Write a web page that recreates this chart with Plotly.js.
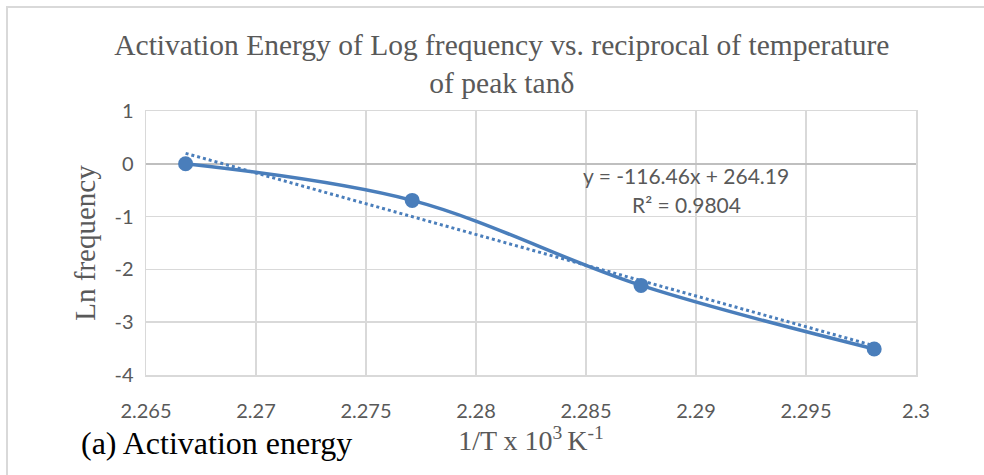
<!DOCTYPE html>
<html>
<head>
<meta charset="utf-8">
<script src="https://cdn.plot.ly/plotly-3.0.1.min.js"></script>
<style>
  html, body { margin: 0; padding: 0; background: #ffffff; }
  #chart { position: absolute; left: 0; top: 0; width: 984px; height: 475px; }
  #frame { position: absolute; left: 6px; top: 6px; width: 978px; height: 469px;
           border-left: 2px solid #d9d9d9; border-top: 2px solid #d9d9d9;
           pointer-events: none; box-sizing: border-box; }
</style>
</head>
<body>
<div id="chart"></div>
<div id="frame"></div>
<script>
// Data
const invT = [2.2668, 2.2771, 2.2875, 2.2981];       // 1/T x 10^3 K^-1
const lnFreq = [0.0, -0.693, -2.303, -3.507];        // Ln frequency
const trendSlope = -116.46;
const trendIntercept = 264.19;
const rSquared = 0.9804;
const xTickVals = [2.265, 2.27, 2.275, 2.28, 2.285, 2.29, 2.295, 2.3];
const xTickText = ['2.265', '2.27', '2.275', '2.28', '2.285', '2.29', '2.295', '2.3'];
const yTickVals = [1, 0, -1, -2, -3, -4];
const yTickText = ['1', '0', '-1', '-2', '-3', '-4'];

const blue = '#4a7ebb';
const grey = '#595959';
const serif = '"Liberation Serif", "Times New Roman", serif';
const sans = 'Lato, "Open Sans", sans-serif';

const trendX = [Math.min(...invT), Math.max(...invT)];
const trendY = trendX.map(x => trendSlope * x + trendIntercept);

const traces = [
  {
    x: trendX, y: trendY, type: 'scatter', mode: 'lines',
    line: { color: blue, width: 3, dash: 'dot' },
    hoverinfo: 'skip', showlegend: false
  },
  {
    x: invT, y: lnFreq, type: 'scatter', mode: 'lines+markers',
    line: { color: blue, width: 3.5, shape: 'spline', smoothing: 1 },
    marker: { color: blue, size: 15 },
    showlegend: false
  }
];

const layout = {
  width: 984, height: 475,
  margin: { l: 146, r: 68, t: 111, b: 100 },
  paper_bgcolor: '#ffffff', plot_bgcolor: '#ffffff',
  title: {
    text: 'Activation Energy of Log frequency vs. reciprocal of temperature<br>of peak tanδ',
    font: { family: serif, size: 29.5, color: grey },
    x: 0.51, xanchor: 'center', y: 0.885, yanchor: 'top'
  },
  xaxis: {
    range: [2.265, 2.3],
    tickvals: xTickVals, ticktext: xTickText,
    showgrid: true, gridcolor: '#d9d9d9', gridwidth: 1.5,
    showline: true, mirror: true, linecolor: '#d9d9d9', linewidth: 1.5,
    zeroline: false,
    ticks: 'outside', ticklen: 17, tickcolor: 'rgba(0,0,0,0)',
    tickfont: { family: sans, size: 20, color: grey },
    title: { text: '1/T x 10<sup>3 </sup>K<sup>-1</sup>', font: { family: serif, size: 28, color: grey }, standoff: 10 },
    automargin: false, fixedrange: true
  },
  yaxis: {
    range: [-4, 1],
    tickvals: yTickVals, ticktext: yTickText,
    showgrid: true, gridcolor: '#d9d9d9', gridwidth: 1.5,
    showline: true, mirror: true, linecolor: '#d9d9d9', linewidth: 1.5,
    zeroline: true, zerolinecolor: '#bfbfbf', zerolinewidth: 1.5,
    ticks: 'outside', ticklen: 7, tickcolor: 'rgba(0,0,0,0)',
    tickfont: { family: sans, size: 20, color: grey },
    title: { text: 'Ln frequency', font: { family: serif, size: 29, color: grey }, standoff: 10 },
    automargin: false, fixedrange: true
  },
  annotations: [
    {
      text: 'y = ' + trendSlope.toFixed(2) + 'x + ' + trendIntercept.toFixed(2),
      x: 2.28955, y: -0.23, xref: 'x', yref: 'y', showarrow: false,
      xanchor: 'center', yanchor: 'middle',
      font: { family: sans, size: 21, color: grey }
    },
    {
      text: 'R² = ' + rSquared.toFixed(4),
      x: 2.28955, y: -0.78, xref: 'x', yref: 'y', showarrow: false,
      xanchor: 'center', yanchor: 'middle',
      font: { family: sans, size: 21, color: grey }
    },
    {
      text: '(a) Activation energy',
      x: -0.087, y: -0.2576, xref: 'paper', yref: 'paper', showarrow: false,
      xanchor: 'left', yanchor: 'middle',
      font: { family: serif, size: 32, color: '#000000' }
    }
  ]
};

Plotly.newPlot('chart', traces, layout, { displayModeBar: false, staticPlot: true });
</script>
</body>
</html>
